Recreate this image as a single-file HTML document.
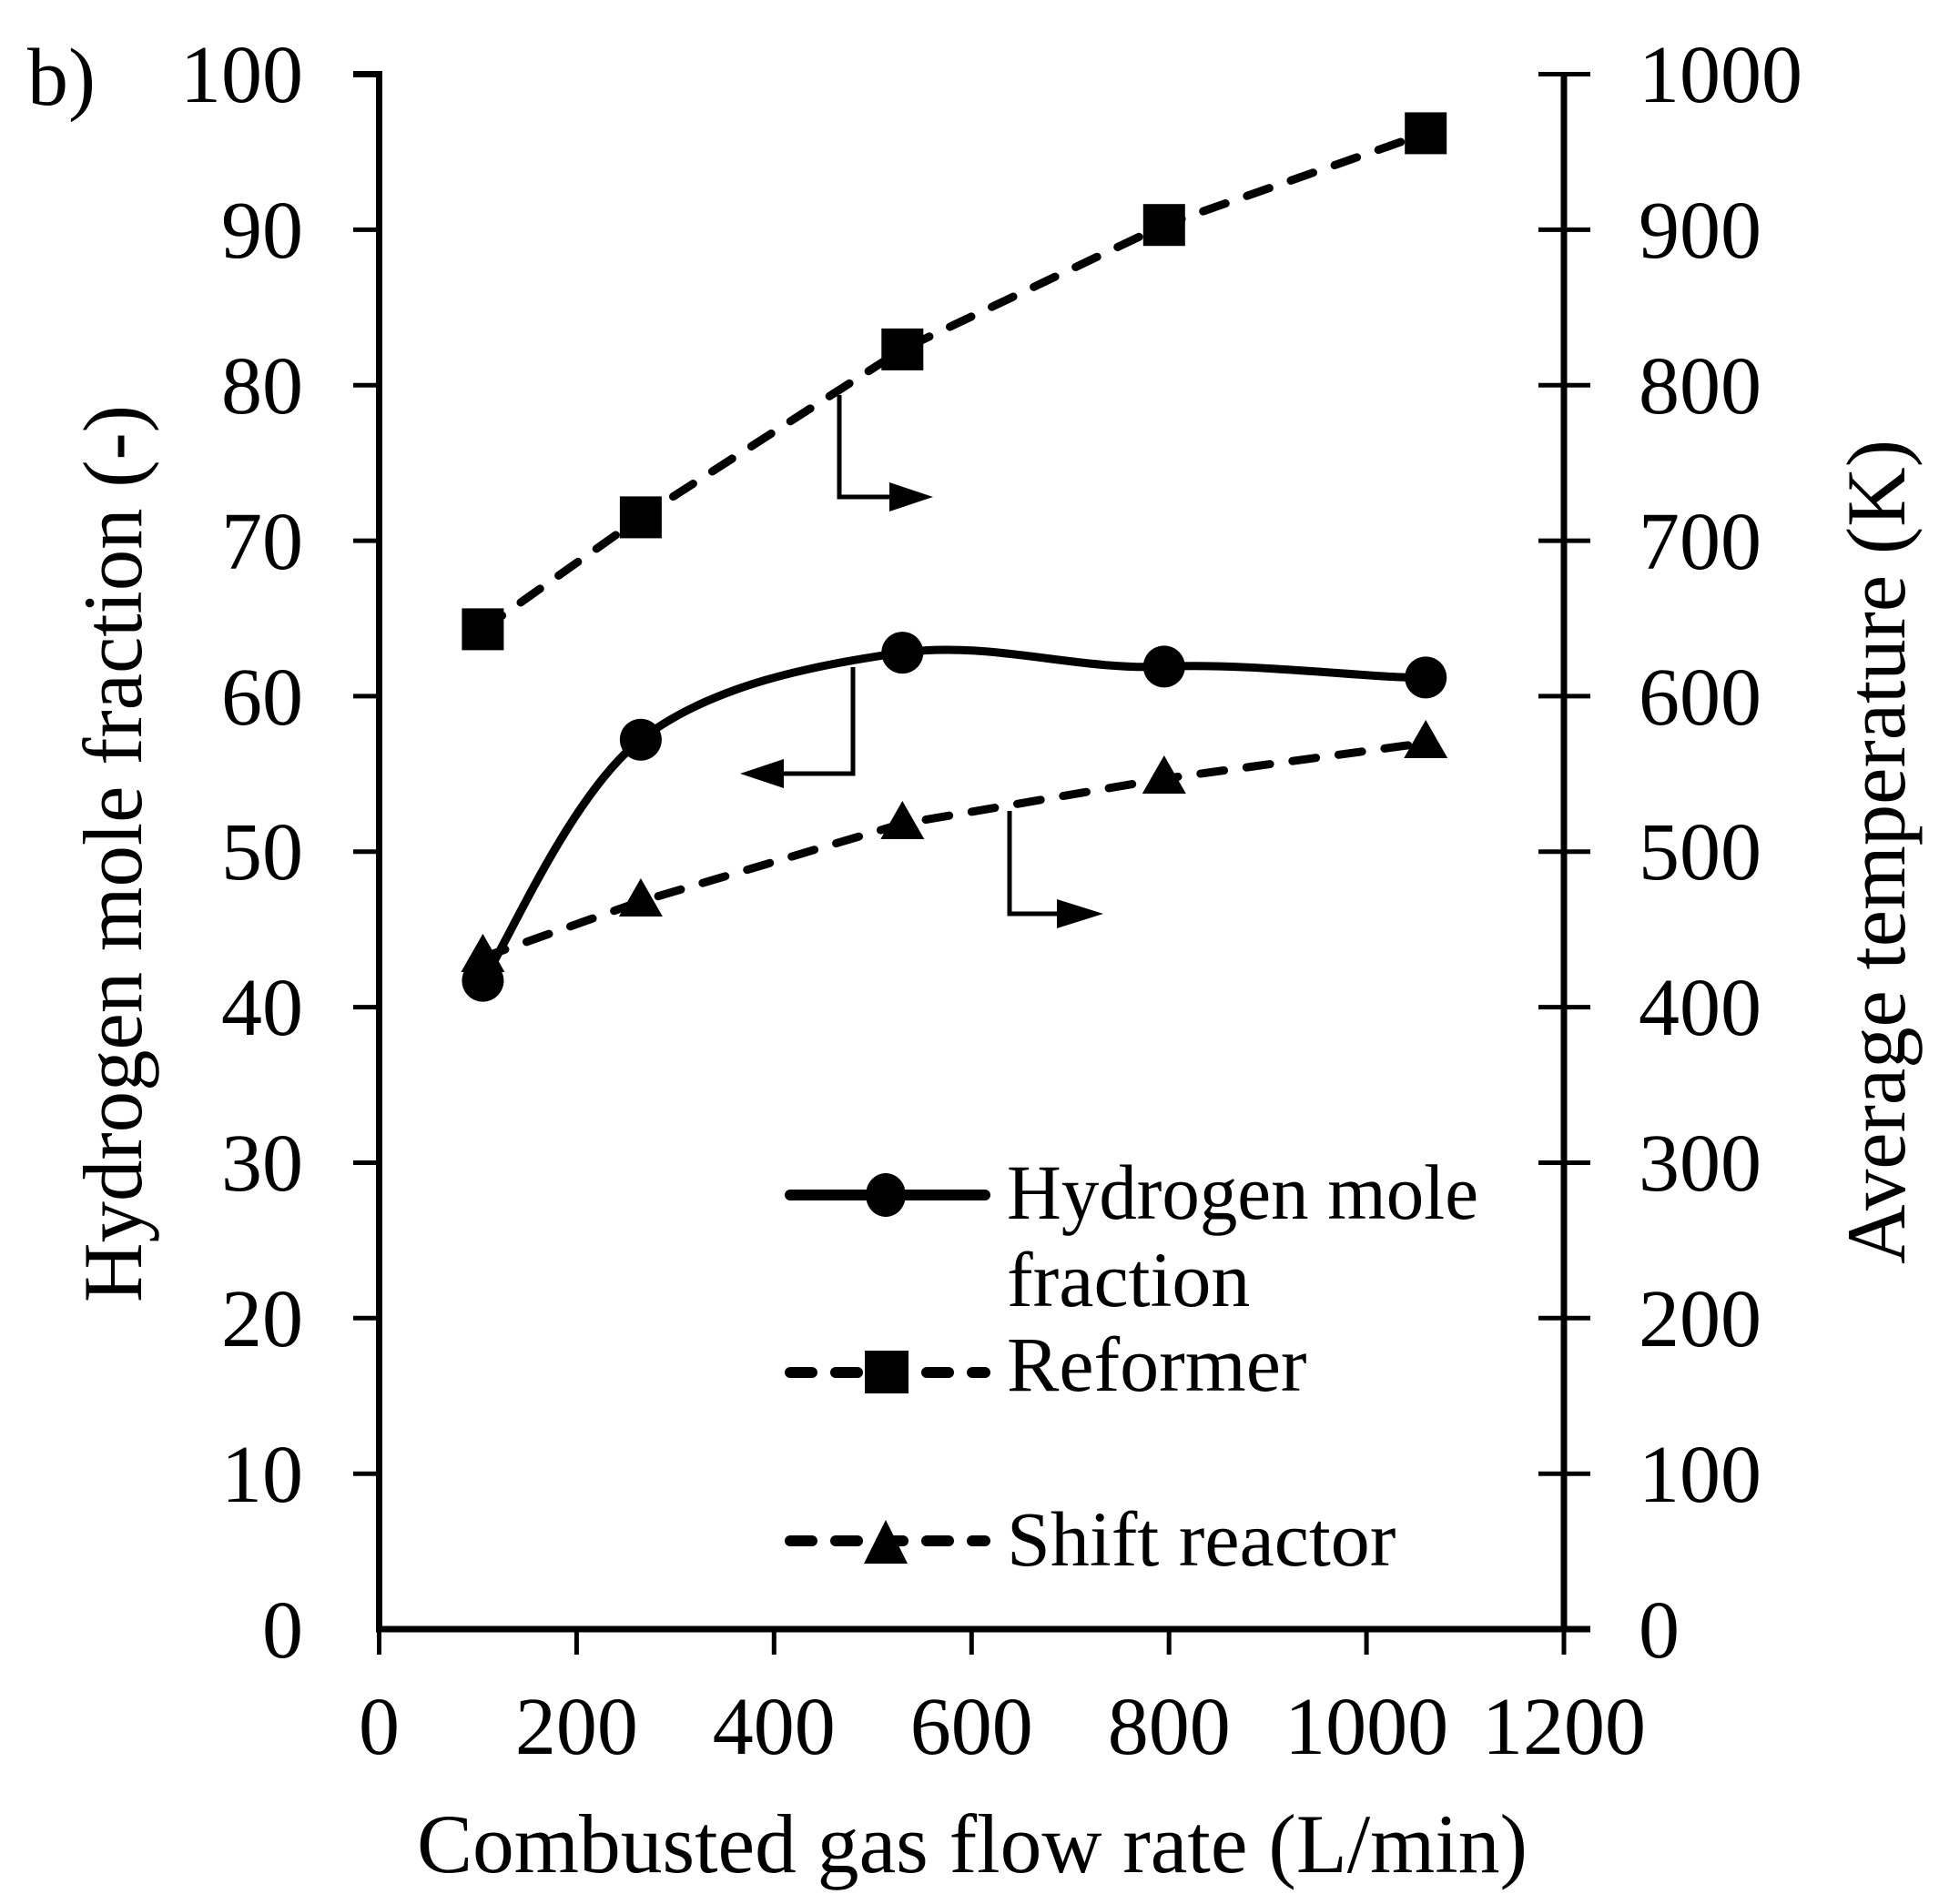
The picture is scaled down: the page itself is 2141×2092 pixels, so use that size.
<!DOCTYPE html>
<html><head><meta charset="utf-8"><style>html,body{margin:0;padding:0;background:#fff}svg{display:block}</style></head>
<body>
<svg width="2141" height="2092" viewBox="0 0 2141 2092" xmlns="http://www.w3.org/2000/svg" font-family="'Liberation Serif', serif" fill="#000">
<rect width="2141" height="2092" fill="#fff"/>
<g stroke="#000" stroke-width="7" fill="none">
<line x1="416.5" y1="81.5" x2="416.5" y2="1790"/>
<line x1="1718" y1="81.5" x2="1718" y2="1790"/>
<line x1="388" y1="81.5" x2="420" y2="81.5"/>
<line x1="413" y1="1790" x2="1747" y2="1790"/>
</g>
<g stroke="#000" stroke-width="5">
<line x1="388" y1="252.4" x2="416" y2="252.4"/><line x1="388" y1="423.2" x2="416" y2="423.2"/>
<line x1="388" y1="594.1" x2="416" y2="594.1"/><line x1="388" y1="764.9" x2="416" y2="764.9"/>
<line x1="388" y1="935.8" x2="416" y2="935.8"/><line x1="388" y1="1106.6" x2="416" y2="1106.6"/>
<line x1="388" y1="1277.5" x2="416" y2="1277.5"/><line x1="388" y1="1448.3" x2="416" y2="1448.3"/>
<line x1="388" y1="1619.2" x2="416" y2="1619.2"/>
<line x1="1690" y1="81.5" x2="1747" y2="81.5"/>
<line x1="1690" y1="252.4" x2="1747" y2="252.4"/><line x1="1690" y1="423.2" x2="1747" y2="423.2"/>
<line x1="1690" y1="594.1" x2="1747" y2="594.1"/><line x1="1690" y1="764.9" x2="1747" y2="764.9"/>
<line x1="1690" y1="935.8" x2="1747" y2="935.8"/><line x1="1690" y1="1106.6" x2="1747" y2="1106.6"/>
<line x1="1690" y1="1277.5" x2="1747" y2="1277.5"/><line x1="1690" y1="1448.3" x2="1747" y2="1448.3"/>
<line x1="1690" y1="1619.2" x2="1747" y2="1619.2"/>
<line x1="416.5" y1="1790" x2="416.5" y2="1818"/><line x1="633.4" y1="1790" x2="633.4" y2="1818"/>
<line x1="850.3" y1="1790" x2="850.3" y2="1818"/><line x1="1067.3" y1="1790" x2="1067.3" y2="1818"/>
<line x1="1284.2" y1="1790" x2="1284.2" y2="1818"/><line x1="1501.1" y1="1790" x2="1501.1" y2="1818"/>
<line x1="1718" y1="1790" x2="1718" y2="1818"/>
</g>
<g font-size="90" text-anchor="end">
<text x="333" y="112">100</text><text x="333" y="283">90</text><text x="333" y="454">80</text>
<text x="333" y="625">70</text><text x="333" y="796">60</text><text x="333" y="966">50</text>
<text x="333" y="1137">40</text><text x="333" y="1308">30</text><text x="333" y="1479">20</text>
<text x="333" y="1650">10</text><text x="333" y="1821">0</text>
</g>
<g font-size="90" text-anchor="start">
<text x="1800" y="112">1000</text><text x="1800" y="283">900</text><text x="1800" y="454">800</text>
<text x="1800" y="625">700</text><text x="1800" y="796">600</text><text x="1800" y="966">500</text>
<text x="1800" y="1137">400</text><text x="1800" y="1308">300</text><text x="1800" y="1479">200</text>
<text x="1800" y="1650">100</text><text x="1800" y="1821">0</text>
</g>
<g font-size="90" text-anchor="middle">
<text x="416.5" y="1927">0</text><text x="633.4" y="1927">200</text><text x="850.3" y="1927">400</text>
<text x="1067.3" y="1927">600</text><text x="1284.2" y="1927">800</text><text x="1501.1" y="1927">1000</text><text x="1718" y="1927">1200</text>
</g>
<text x="458" y="2057" font-size="92" textLength="1220" lengthAdjust="spacingAndGlyphs">Combusted gas flow rate (L/min)</text>
<text transform="translate(155,1431) rotate(-90)" font-size="92" textLength="986" lengthAdjust="spacingAndGlyphs">Hydrogen mole fraction (-)</text>
<text transform="translate(2092,1389) rotate(-90)" font-size="92" textLength="906" lengthAdjust="spacingAndGlyphs">Average temperature (K)</text>
<text x="30" y="115" font-size="90">b)</text>

<g fill="none" stroke="#000" stroke-width="9" stroke-linecap="round" stroke-linejoin="round">
<path d="M530.4,1077.6 C559.3,1033.4 627.1,872.8 703.9,812.7 C780.7,752.6 895.5,730.4 991.3,717.1 C1087.1,703.8 1183,736.9 1278.8,732.4 C1374.6,727.9 1518.3,746.4 1566.2,744.4"/>
<polyline stroke-dasharray="26,25" points="530.4,691.4 703.9,568.4 991.3,383.9 1278.8,247.2 1566.2,146.4"/>
<polyline stroke-dasharray="26,25" points="530.4,1051.9 703.9,990.4 991.3,905 1278.8,855.5 1566.2,816.2"/>
</g>
<g>
<ellipse cx="530.4" cy="1077.6" rx="23" ry="23"/><ellipse cx="703.9" cy="812.7" rx="23" ry="23"/>
<ellipse cx="991.3" cy="717.1" rx="23" ry="23"/><ellipse cx="1278.8" cy="732.4" rx="23" ry="23"/>
<ellipse cx="1566.2" cy="744.4" rx="23" ry="23"/>
<rect x="507.4" y="668.4" width="46" height="46"/><rect x="680.9" y="545.4" width="46" height="46"/>
<rect x="968.3" y="360.9" width="46" height="46"/><rect x="1255.8" y="224.2" width="46" height="46"/>
<rect x="1543.2" y="123.4" width="46" height="46"/>
<polygon points="530.4,1026 554.4,1068 506.4,1068"/><polygon points="703.9,965 727.9,1007 679.9,1007"/>
<polygon points="991.3,880 1015.3,922 967.3,922"/><polygon points="1278.8,830 1302.8,872 1254.8,872"/>
<polygon points="1566.2,791 1590.2,833 1542.2,833"/>
</g>
<g fill="none" stroke="#000" stroke-width="5">
<polyline points="922,434 922,546 980,546"/>
<polyline points="937,733 937,850 858,850"/>
<polyline points="1109,891 1109,1004 1164,1004"/>
</g>
<polygon points="1025,546 977,530 977,562"/>
<polygon points="813,850 861,834 861,866"/>
<polygon points="1212,1004 1161,988 1161,1020"/>
<g fill="none" stroke="#000" stroke-width="12" stroke-linecap="round">
<line x1="868" y1="1313" x2="1082" y2="1313"/>
<line x1="868" y1="1508" x2="1082" y2="1508" stroke-dasharray="24,26"/>
<line x1="868" y1="1693" x2="1082" y2="1693" stroke-dasharray="24,26"/>
</g>
<ellipse cx="973" cy="1313" rx="22" ry="24"/>
<rect x="950" y="1484" width="48" height="47"/>
<polygon points="973,1670 997,1718 949,1718"/>
<g font-size="86">
<text x="1106" y="1339" textLength="518" lengthAdjust="spacingAndGlyphs">Hydrogen mole</text>
<text x="1106" y="1435">fraction</text>
<text x="1106" y="1528">Reformer</text>
<text x="1106" y="1720">Shift reactor</text>
</g>
</svg>
</body></html>
